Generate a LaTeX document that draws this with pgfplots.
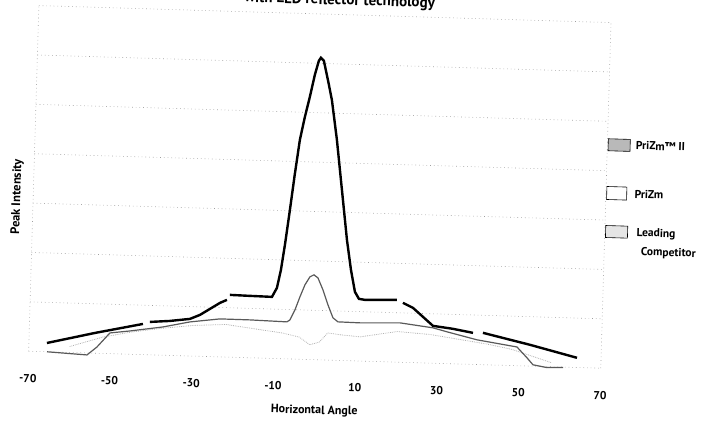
\documentclass[border=0pt]{standalone}
\usepackage{pgfplots}
\pgfplotsset{compat=1.18}
\usepackage{fontspec}
\setmainfont{PT Sans}

\begin{document}
\begin{tikzpicture}
\useasboundingbox (0pt,0pt) rectangle (701pt,423pt);
% the scanned page is slightly tilted clockwise
\begin{scope}[transform canvas={rotate around={-1.7:(319.8pt,236.1pt)}}]
\begin{axis}[
  at={(33.6pt,63.2pt)}, anchor=south west,
  scale only axis, width=572.4pt, height=345.8pt,
  xmin=-70, xmax=70, ymin=0, ymax=7,
  clip=false,
  axis line style={draw=none},
  major tick length=0pt,
  xtick={-70,-50,...,70},
  xticklabels={-70,-50,-30,-10,10,30,50,70},
  xticklabel style={anchor=center, yshift=-27pt, font=\fontsize{11.5}{13}\selectfont\bfseries},
  ytick={0,...,7}, yticklabels={},
  ymajorgrids,
  extra x ticks={-70,70}, extra x tick labels={},
  extra x tick style={grid=major},
  major grid style={gray!75, line width=0.6pt, dash pattern=on 0.7pt off 3pt},
  xlabel={Horizontal Angle},
  ylabel={Peak Intensity},
  xlabel style={at={(axis description cs:0.502,-0.148)}, anchor=center, font=\fontsize{12}{14}\selectfont\bfseries},
  ylabel style={at={(axis description cs:-0.028,0.445)}, anchor=center, font=\fontsize{12.5}{14}\selectfont\bfseries},
  title={with LED reflector technology},
  title style={at={(axis description cs:0.525,1.011)}, anchor=base, font=\fontsize{15}{18}\selectfont\bfseries},
  unbounded coords=jump,
]
% Leading Competitor
\addplot[gray!60, line width=0.8pt, densely dotted] coordinates {
(-60,0.12) (-52,0.33) (-45,0.45) (-38,0.54) (-30,0.62) (-22,0.66) (-14,0.58)
(-8,0.52) (-4,0.45) (-1.3,0.30) (1,0.36) (3,0.55) (6,0.52) (11,0.49) (20,0.62)
(28,0.58) (35,0.50) (42,0.42) (48,0.33) (54,0.18) (58,0.08)};

% PriZm
\addplot[gray!70!black, line width=1.2pt] coordinates {
(-65.5,0) (-55.71,-0.04) (-53.32,0.127) (-50.25,0.419) (-45.37,0.471) (-37.33,0.572)
(-30.77,0.690) (-23.45,0.769) (-16.11,0.767) (-7.05,0.749) (-6.33,0.791) (-5.18,0.997)
(-4.06,1.263) (-2.92,1.509) (-1.76,1.674) (-0.79,1.717) (0.21,1.658) (1.52,1.418)
(2.85,1.118) (4.17,0.858) (5.42,0.780) (10.80,0.773) (20.58,0.797) (28.69,0.716)
(32.14,0.644) (39.54,0.500) (49.37,0.379) (51.89,0.166) (53.41,0.028) (56.86,-0.02)
(60.77,-0.01)};

% PriZm II
\addplot[black, line width=2.4pt] coordinates {
(-65.58,0.178) (-53.91,0.410) (-42.24,0.621) (-41.4,nan)
(-40.55,0.666) (-35.66,0.698) (-30.79,0.751) (-28.37,0.838) (-25.97,0.965)
(-23.57,1.093) (-21.88,1.158) (-21.5,nan)
(-21.19,1.261) (-16.29,1.253) (-10.90,1.246) (-9.75,1.431) (-8.90,1.798)
(-8.11,2.306) (-7.14,3.018) (-6.22,3.729) (-5.21,4.441) (-4.20,4.889)
(-3.08,5.318) (-2.02,5.766) (-1.14,6.052) (-0.67,6.114) (0.08,6.055)
(1.20,5.672) (2.32,5.270) (3.84,4.463) (5.43,3.454) (7.02,2.445) (8.22,1.840)
(9.35,1.397) (10.38,1.258) (11.86,1.241) (19.68,1.261) (20.4,nan)
(21.17,1.204) (23.65,1.109) (26.16,0.933) (28.68,0.756) (33.59,0.708)
(38.51,0.639) (39.7,nan)
(40.95,0.645) (52.53,0.431) (64.12,0.196)};

% legend, outside the plot on the right
\draw[black, fill=gray!55, line width=0.6pt] (axis description cs:1.0014,0.635) ++(0pt,-2pt) rectangle ++(22pt,12pt);
\draw[black, fill=white, line width=0.6pt] (axis description cs:1.0014,0.494) ++(0pt,-2pt) rectangle ++(20pt,13pt);
\draw[black, fill=gray!20, line width=0.6pt] (axis description cs:1.0014,0.384) ++(0pt,-2pt) rectangle ++(22pt,12pt);
\begin{scope}[every node/.style={anchor=base west, inner sep=0pt, font=\fontsize{11.5}{13}\selectfont\bfseries}]
\node at (axis description cs:1.0498,0.635) {PriZm™ II};
\node at (axis description cs:1.0498,0.494) {PriZm};
\node at (axis description cs:1.0555,0.384) {Leading};
\node at (axis description cs:1.0640,0.329) {Competitor};
\end{scope}
\end{axis}
\end{scope}
\end{tikzpicture}
\end{document}
